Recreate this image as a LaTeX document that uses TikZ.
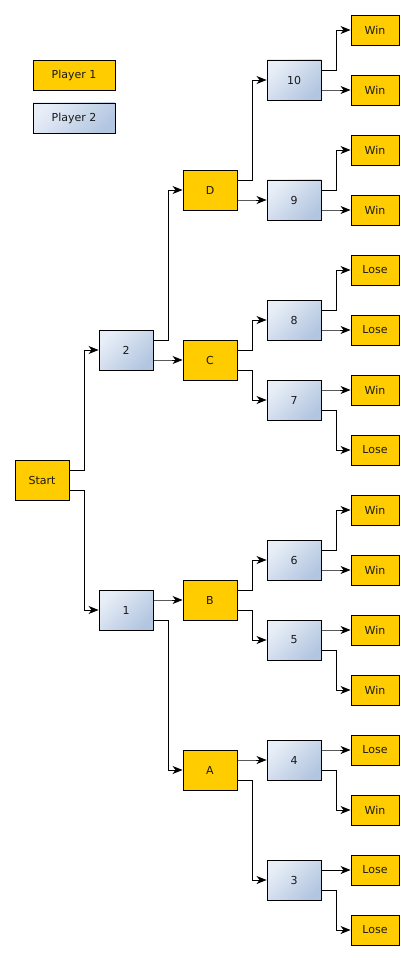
\documentclass[tikz,border=0pt]{standalone}
\usepackage{fontspec}
\setmainfont{DejaVu Sans}
\usetikzlibrary{arrows.meta}
\definecolor{porange}{HTML}{FFCC00}
\definecolor{blueA}{HTML}{E8EEF7}
\definecolor{blueB}{HTML}{B3C6E1}
\tikzset{
  box/.style={draw=black, line width=0.9pt, inner sep=0pt, font=\fontsize{11}{13}\selectfont, text=black!90},
  pone/.style={box, fill=porange, minimum width=54pt, minimum height=40pt},
  ptwo/.style={box, top color=blueA, bottom color=blueB, shading angle=45, minimum width=54pt, minimum height=40pt},
  leaf/.style={box, fill=porange, minimum width=48pt, minimum height=30pt},
  conn/.style={draw=black, line width=0.9pt, -{Stealth[length=10pt,width=8pt,inset=3pt]}}
}
\begin{document}
\begin{tikzpicture}[x=1pt,y=-1pt]
\useasboundingbox (0,0) rectangle (414,960);
% legend
\node[pone, minimum width=82pt, minimum height=30pt] (leg1) at (74,75) {Player 1};
\node[ptwo, minimum width=82pt, minimum height=30pt] (leg2) at (74,118) {Player 2};
% tree
\node[pone] (start) at (42,480) {Start};
\node[ptwo] (n2) at (126,350) {2};
\node[ptwo] (n1) at (126,610) {1};
\node[pone] (D) at (210,190) {D};
\node[pone] (C) at (210,360) {C};
\node[pone] (B) at (210,600) {B};
\node[pone] (A) at (210,770) {A};
\node[ptwo] (n10) at (294,80) {10};
\node[ptwo] (n9) at (294,200) {9};
\node[ptwo] (n8) at (294,320) {8};
\node[ptwo] (n7) at (294,400) {7};
\node[ptwo] (n6) at (294,560) {6};
\node[ptwo] (n5) at (294,640) {5};
\node[ptwo] (n4) at (294,760) {4};
\node[ptwo] (n3) at (294,880) {3};
\node[leaf] (l1) at (375,30) {Win};
\node[leaf] (l2) at (375,90) {Win};
\node[leaf] (l3) at (375,150) {Win};
\node[leaf] (l4) at (375,210) {Win};
\node[leaf] (l5) at (375,270) {Lose};
\node[leaf] (l6) at (375,330) {Lose};
\node[leaf] (l7) at (375,390) {Win};
\node[leaf] (l8) at (375,450) {Lose};
\node[leaf] (l9) at (375,510) {Win};
\node[leaf] (l10) at (375,570) {Win};
\node[leaf] (l11) at (375,630) {Win};
\node[leaf] (l12) at (375,690) {Win};
\node[leaf] (l13) at (375,750) {Lose};
\node[leaf] (l14) at (375,810) {Win};
\node[leaf] (l15) at (375,870) {Lose};
\node[leaf] (l16) at (375,930) {Lose};
% connectors
\foreach \p/\a/\b in {start/n2/n1, n2/D/C, n1/B/A, D/n10/n9, C/n8/n7, B/n6/n5, A/n4/n3,
  n10/l1/l2, n9/l3/l4, n8/l5/l6, n7/l7/l8, n6/l9/l10, n5/l11/l12, n4/l13/l14, n3/l15/l16}{
  \draw[conn] ([yshift=10pt]\p.east) -- ++(15,0) |- (\a.west);
  \draw[conn] ([yshift=-10pt]\p.east) -- ++(15,0) |- (\b.west);
}
\end{tikzpicture}
\end{document}
